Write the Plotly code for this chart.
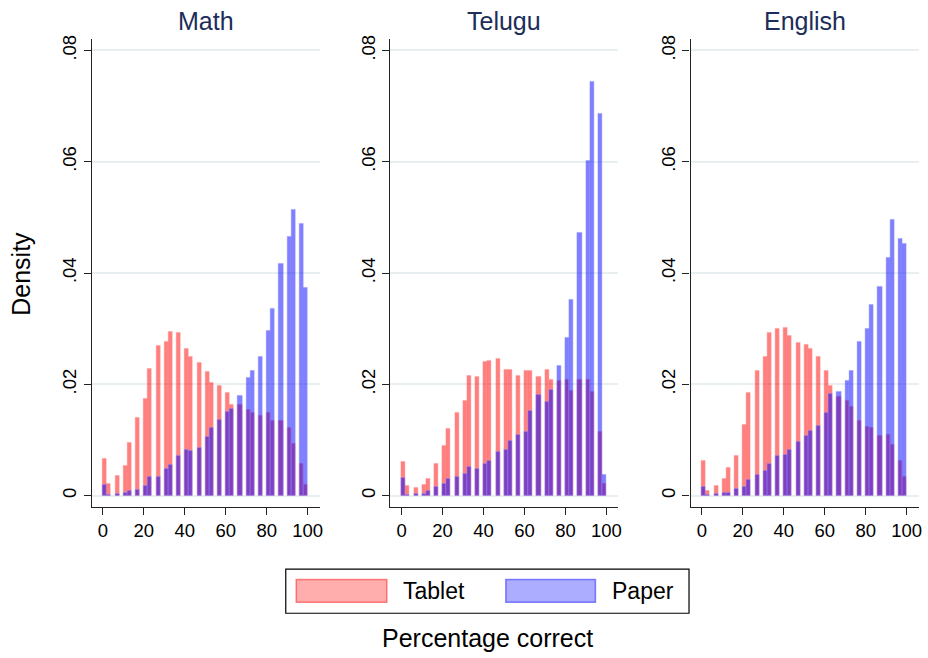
import plotly.graph_objects as go

W, H = 928, 658

# ---- data ----
subjects = ["Math", "Telugu", "English"]
bin_start = [0, 2, 6, 10, 12, 16, 20, 22, 26, 30, 32, 36, 40, 42, 46, 50,
             52, 56, 60, 62, 66, 70, 72, 76, 80, 82, 86, 90, 92, 96, 98]
bin_width = 2

math_tablet = [0.0066, 0.0022, 0.0035, 0.0054, 0.0094, 0.0140, 0.0174, 0.0227, 0.0270, 0.0277,
               0.0294, 0.0292, 0.0264, 0.0250, 0.0238, 0.0223, 0.0203, 0.0197, 0.0184, 0.0163,
               0.0164, 0.0154, 0.0148, 0.0143, 0.0149, 0.0135, 0.0134, 0.0122, 0.0093, 0.0058, 0.0020]
math_paper = [0.0020, 0.0002, 0.0004, 0.0005, 0.0008, 0.0011, 0.0018, 0.0034, 0.0033, 0.0049,
              0.0056, 0.0072, 0.0083, 0.0080, 0.0085, 0.0106, 0.0122, 0.0136, 0.0150, 0.0156,
              0.0179, 0.0211, 0.0225, 0.0249, 0.0296, 0.0336, 0.0417, 0.0465, 0.0513, 0.0489, 0.0373]

telugu_tablet = [0.0060, 0.0017, 0.0014, 0.0020, 0.0031, 0.0058, 0.0090, 0.0120, 0.0148, 0.0170,
                 0.0216, 0.0214, 0.0240, 0.0242, 0.0245, 0.0226, 0.0226, 0.0215, 0.0224, 0.0225,
                 0.0214, 0.0226, 0.0208, 0.0206, 0.0208, 0.0188, 0.0209, 0.0208, 0.0187, 0.0115, 0.0021]
telugu_paper = [0.0032, 0.0002, 0.0004, 0.0004, 0.0008, 0.0015, 0.0022, 0.0030, 0.0033, 0.0040,
                0.0052, 0.0048, 0.0058, 0.0063, 0.0078, 0.0083, 0.0098, 0.0110, 0.0115, 0.0153,
                0.0182, 0.0169, 0.0191, 0.0233, 0.0284, 0.0352, 0.0472, 0.0602, 0.0743, 0.0686, 0.0038]

english_tablet = [0.0063, 0.0008, 0.0017, 0.0030, 0.0050, 0.0072, 0.0127, 0.0184, 0.0224, 0.0250,
                  0.0292, 0.0299, 0.0302, 0.0287, 0.0275, 0.0271, 0.0263, 0.0249, 0.0224, 0.0197,
                  0.0178, 0.0171, 0.0159, 0.0135, 0.0123, 0.0122, 0.0107, 0.0109, 0.0092, 0.0063, 0.0033]
english_paper = [0.0016, 0.0002, 0.0004, 0.0005, 0.0005, 0.0012, 0.0015, 0.0029, 0.0038, 0.0045,
                 0.0058, 0.0072, 0.0073, 0.0083, 0.0097, 0.0107, 0.0116, 0.0126, 0.0149, 0.0183,
                 0.0186, 0.0206, 0.0225, 0.0276, 0.0299, 0.0343, 0.0375, 0.0427, 0.0496, 0.0461, 0.0452]

series_names = ["Tablet", "Paper"]
x_ticks = [0, 20, 40, 60, 80, 100]
y_ticks = [0, 0.02, 0.04, 0.06, 0.08]
y_tick_labels = ["0", ".02", ".04", ".06", ".08"]

tablet_by_subject = [math_tablet, telugu_tablet, english_tablet]
paper_by_subject = [math_paper, telugu_paper, english_paper]

# ---- styles ----
FONT = "Liberation Sans, Arial, Helvetica, sans-serif"
RED_FILL = "rgba(255,0,0,0.5)"
RED_LINE = "rgba(255,150,150,0.55)"
BLUE_FILL = "rgba(0,0,255,0.5)"
BLUE_LINE = "rgba(150,150,255,0.55)"
GRID = "#e8eff1"
TITLE_COLOR = "#1c2d5a"

panel_left_px = [92, 392, 693.5]
panel_w_px = 229
top_px, bottom_px = 35, 506

fig = go.Figure()
layout = dict(
    width=W, height=H,
    margin=dict(l=0, r=0, t=0, b=0),
    paper_bgcolor="white", plot_bgcolor="white",
    showlegend=False, barmode="overlay", bargap=0,
    font=dict(family=FONT, size=18, color="black"),
)

annotations = []
for i, subj in enumerate(subjects):
    n = "" if i == 0 else str(i + 1)
    xa, ya = "x" + n, "y" + n
    fig.add_trace(go.Bar(x=bin_start, y=tablet_by_subject[i], width=bin_width, offset=0,
                         name=series_names[0], xaxis=xa, yaxis=ya,
                         marker=dict(color=RED_FILL, line=dict(color=RED_LINE, width=0.8))))
    fig.add_trace(go.Bar(x=bin_start, y=paper_by_subject[i], width=bin_width, offset=0,
                         name=series_names[1], xaxis=xa, yaxis=ya,
                         marker=dict(color=BLUE_FILL, line=dict(color=BLUE_LINE, width=0.8))))
    x0 = panel_left_px[i] / W
    x1 = (panel_left_px[i] + panel_w_px) / W
    layout["xaxis" + n] = dict(
        domain=[x0, x1], anchor=ya, range=[-5.5, 105.8],
        tickvals=x_ticks, ticks="outside", ticklen=7, tickwidth=1.2, tickcolor="#222",
        showline=True, linecolor="#222", linewidth=1.2, showgrid=False, zeroline=False,
        tickfont=dict(size=18.5, family=FONT, color="black"),
    )
    layout["yaxis" + n] = dict(
        domain=[(H - bottom_px) / H, (H - top_px) / H], anchor=xa, range=[-0.00204, 0.0821],
        tickvals=y_ticks, ticktext=y_tick_labels, tickangle=-90,
        ticks="outside", ticklen=7, tickwidth=1.2, tickcolor="#222",
        showline=True, linecolor="#222", linewidth=1.2,
        showgrid=True, gridcolor=GRID, gridwidth=1.5, zeroline=False,
        tickfont=dict(size=18.5, family=FONT, color="black"),
    )
    annotations.append(dict(text=subj, x=(x0 + x1) / 2, y=1 - 17 / H, xref="paper", yref="paper",
                            xanchor="center", yanchor="middle", showarrow=False,
                            font=dict(size=25, family=FONT, color=TITLE_COLOR)))

annotations.append(dict(text="Density", x=21 / W, y=1 - 271.5 / H, xref="paper", yref="paper",
                        xanchor="center", yanchor="middle", textangle=-90, showarrow=False,
                        font=dict(size=25, family=FONT, color="black")))
annotations.append(dict(text="Percentage correct", x=490 / W, y=1 - 638 / H, xref="paper", yref="paper",
                        xanchor="center", yanchor="middle", showarrow=False,
                        font=dict(size=25, family=FONT, color="black")))

# ---- hand-drawn legend ----
def px_x(v):
    return v / W

def px_y(v):
    return 1 - v / H

shapes = [
    dict(type="rect", xref="paper", yref="paper", x0=px_x(287), x1=px_x(692), y0=px_y(613), y1=px_y(568.5),
         line=dict(color="black", width=1.2), fillcolor="white", layer="above"),
    dict(type="rect", xref="paper", yref="paper", x0=px_x(297.5), x1=px_x(388.5), y0=px_y(602), y1=px_y(579),
         line=dict(color="rgba(255,0,0,0.45)", width=1.5), fillcolor="rgba(255,0,0,0.32)", layer="above"),
    dict(type="rect", xref="paper", yref="paper", x0=px_x(508), x1=px_x(598), y0=px_y(602), y1=px_y(579),
         line=dict(color="rgba(0,0,255,0.45)", width=1.5), fillcolor="rgba(0,0,255,0.32)", layer="above"),
]
annotations.append(dict(text=series_names[0], x=px_x(403), y=px_y(591), xref="paper", yref="paper",
                        xanchor="left", yanchor="middle", showarrow=False,
                        font=dict(size=23, family=FONT, color="black")))
annotations.append(dict(text=series_names[1], x=px_x(613), y=px_y(591), xref="paper", yref="paper",
                        xanchor="left", yanchor="middle", showarrow=False,
                        font=dict(size=23, family=FONT, color="black")))

layout["annotations"] = annotations
layout["shapes"] = shapes
fig.update_layout(**layout)

fig.write_html("out.html")
